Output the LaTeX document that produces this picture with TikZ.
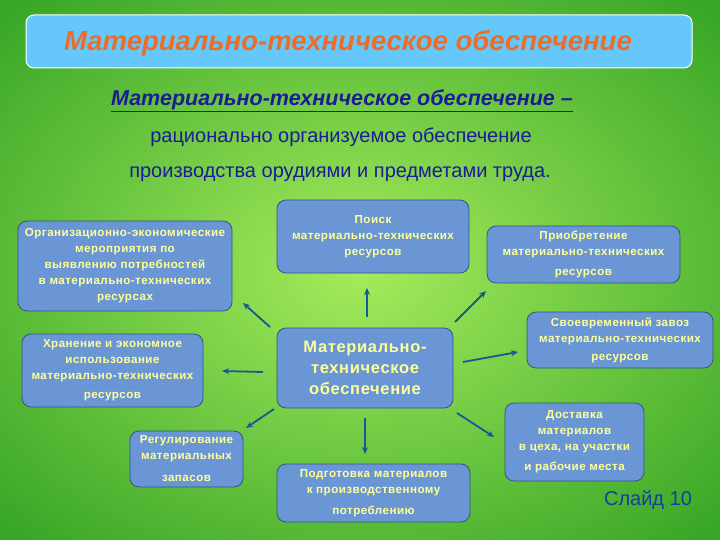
\documentclass[tikz,border=0pt]{standalone}
\usepackage{fontspec}
\setmainfont{Liberation Sans}
\newfontfamily\boxfont[LetterSpace=4]{Liberation Sans}
\usetikzlibrary{arrows.meta}
\definecolor{bgin}{RGB}{165,235,92}
\definecolor{bgout}{RGB}{55,165,38}
\definecolor{boxfill}{RGB}{106,150,214}
\definecolor{boxline}{RGB}{52,84,130}
\definecolor{boxtext}{RGB}{255,255,150}
\definecolor{titlefill}{RGB}{102,200,250}
\definecolor{titletext}{RGB}{236,108,40}
\definecolor{deftext}{RGB}{28,28,150}
\definecolor{arrowc}{RGB}{20,90,150}
\definecolor{slidec}{RGB}{16,64,160}
\tikzset{
  infobox/.style={draw=boxline, line width=0.8pt, fill=boxfill, rounded corners=9pt,
    inner sep=0pt, align=center, text=boxtext,
    font=\boxfont\bfseries\fontsize{11.6}{16}\selectfont},
  linkarrow/.style={draw=arrowc, line width=1.8pt, -{Stealth[length=7pt,width=6pt]}},
}
\begin{document}
\begin{tikzpicture}[x=1pt,y=-1pt]
\useasboundingbox (0,0) rectangle (720,540);
\shade[inner color=bgin, outer color=bgout] (-150,-100) rectangle (870,640);
\clip (0,0) rectangle (720,540);
% title
\node[draw=white, line width=1pt, fill=titlefill, rounded corners=8pt,
  minimum width=666pt, minimum height=53pt, inner sep=0pt] (title) at (359,41.5) {};
\node[text=titletext, font=\bfseries\itshape\fontsize{27.5}{30}\selectfont] (titletxt) at (348,43) {Материально-техническое обеспечение};
% definition
\node[text=deftext, font=\bfseries\itshape\fontsize{21.5}{24}\selectfont] (def1) at (342,101) {\underline{Материально-техническое обеспечение –}};
\node[text=deftext, font=\fontsize{20}{22}\selectfont] (def2) at (341,137) {рационально организуемое обеспечение};
\node[text=deftext, font=\fontsize{20}{22}\selectfont] (def3) at (340,174) {производства орудиями и предметами труда.};
% boxes
\node[infobox, minimum width=214pt, minimum height=90pt] (org) at (125,266)
  {Организационно-экономические\\мероприятия по\\выявлению потребностей\\в материально-технических\\ресурсах};
\node[infobox, minimum width=192pt, minimum height=73pt] (poisk) at (373,236.5)
  {Поиск\\материально-технических\\ресурсов};
\node[infobox, minimum width=193pt, minimum height=57pt] (priob) at (583.5,254.5)
  {Приобретение\\материально-технических\\[4pt]ресурсов};
\node[infobox, minimum width=181pt, minimum height=73pt] (hran) at (112.5,370.5)
  {Хранение и экономное\\использование\\материально-технических\\[3pt]ресурсов};
\node[infobox, minimum width=176pt, minimum height=80pt,
  font=\boxfont\bfseries\fontsize{16.5}{21}\selectfont] (center) at (365,368)
  {Материально-\\техническое\\обеспечение};
\node[infobox, minimum width=186pt, minimum height=56pt] (zavoz) at (620,340)
  {Своевременный завоз\\материально-технических\\[2pt]ресурсов};
\node[infobox, minimum width=113pt, minimum height=56pt] (regul) at (186.5,459)
  {Регулирование\\материальных\\[6pt]запасов};
\node[infobox, minimum width=193pt, minimum height=58pt] (podg) at (373.5,493)
  {Подготовка материалов\\к производственному\\[5pt]потреблению};
\node[infobox, minimum width=139pt, minimum height=78pt] (dost) at (574.5,442)
  {Доставка\\материалов\\в цеха, на участки\\[4pt]и рабочие места};
\node[text=slidec, font=\fontsize{20}{22}\selectfont] (slide) at (648,500) {Слайд 10};
% arrows
\coordinate (aUpT) at (367,317); \coordinate (aUpH) at (367,288);
\coordinate (aULT) at (270,327); \coordinate (aULH) at (243,303);
\coordinate (aURT) at (455,322); \coordinate (aURH) at (486,291);
\coordinate (aLT) at (263,372); \coordinate (aLH) at (222,371);
\coordinate (aRT) at (463,362); \coordinate (aRH) at (518,352);
\coordinate (aLLT) at (274,409); \coordinate (aLLH) at (246,428);
\coordinate (aDT) at (365,418); \coordinate (aDH) at (365,454);
\coordinate (aLRT) at (457,413); \coordinate (aLRH) at (494,437);
\draw[linkarrow] (aUpT) -- (aUpH);
\draw[linkarrow] (aULT) -- (aULH);
\draw[linkarrow] (aURT) -- (aURH);
\draw[linkarrow] (aLT) -- (aLH);
\draw[linkarrow] (aRT) -- (aRH);
\draw[linkarrow] (aLLT) -- (aLLH);
\draw[linkarrow] (aDT) -- (aDH);
\draw[linkarrow] (aLRT) -- (aLRH);
\end{tikzpicture}
\end{document}
